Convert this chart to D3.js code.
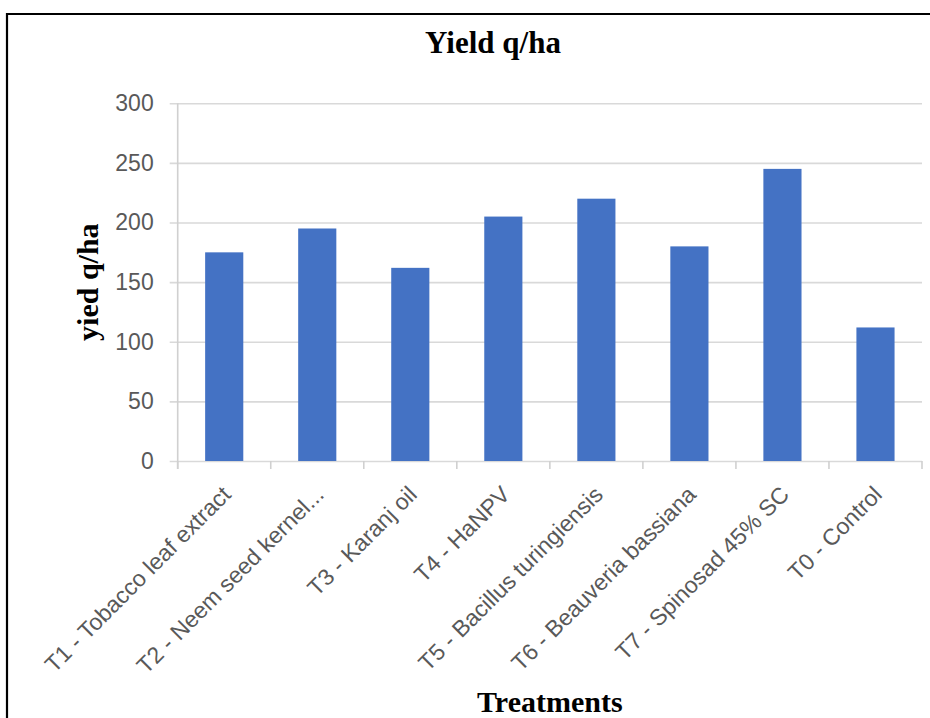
<!DOCTYPE html>
<html>
<head>
<meta charset="utf-8">
<script src="https://cdn.jsdelivr.net/npm/d3@7/dist/d3.min.js"></script>
<style>
  html, body { margin: 0; padding: 0; background: #ffffff; }
  svg { display: block; }
</style>
</head>
<body>
<svg id="chart" width="930" height="718"></svg>
<script>
const categories = [
  "T1 - Tobacco leaf extract",
  "T2 - Neem seed kernel...",
  "T3 - Karanj oil",
  "T4 - HaNPV",
  "T5 - Bacillus turingiensis",
  "T6 - Beauveria bassiana",
  "T7 - Spinosad 45% SC",
  "T0 - Control"
];
const yieldValues = [175, 195, 162, 205, 220, 180, 245, 112];
const yTicks = [0, 50, 100, 150, 200, 250, 300];
const chartTitle = "Yield q/ha";
const yTitle = "yied q/ha";
const xTitle = "Treatments";

const svg = d3.select("#chart");
const W = 930, H = 718;
const plot = { left: 177.7, right: 922, top: 103.3, bottom: 461 };

svg.append("rect").attr("width", W).attr("height", H).attr("fill", "#ffffff");

// outer frame (cropped image: top and left edges visible)
svg.append("line").attr("x1", 6).attr("x2", W).attr("y1", 14).attr("y2", 14)
  .attr("stroke", "#000").attr("stroke-width", 2.2);
svg.append("line").attr("x1", 7).attr("x2", 7).attr("y1", 13).attr("y2", H)
  .attr("stroke", "#000").attr("stroke-width", 2.2);

const x = d3.scaleBand()
  .domain(categories)
  .range([plot.left, plot.right])
  .paddingInner(0.59)
  .paddingOuter(0.295);

const y = d3.scaleLinear().domain([0, 300]).range([plot.bottom, plot.top]);

// gridlines + y ticks
const yAxis = d3.axisLeft(y).tickValues(yTicks).tickSize(plot.right - plot.left + 8).tickPadding(17);
const gy = svg.append("g")
  .attr("transform", `translate(${plot.right},0)`)
  .call(yAxis);
gy.select(".domain").remove();
gy.selectAll(".tick line").attr("stroke", "#d9d9d9").attr("stroke-width", 1.6);
gy.selectAll(".tick text")
  .attr("x", -(plot.right - plot.left) - 24)
  .attr("font-family", "'Liberation Sans', Arial, sans-serif")
  .attr("font-size", 23)
  .attr("fill", "#595959");

// vertical axis line
svg.append("line")
  .attr("x1", plot.left).attr("x2", plot.left)
  .attr("y1", plot.top).attr("y2", plot.bottom + 8)
  .attr("stroke", "#d0d0d0").attr("stroke-width", 1.6);

// bars
svg.append("g").selectAll("rect")
  .data(yieldValues)
  .join("rect")
  .attr("x", (d, i) => x(categories[i]))
  .attr("width", x.bandwidth())
  .attr("y", d => y(d))
  .attr("height", d => y(0) - y(d))
  .attr("fill", "#4472c4");

// x axis category boundary ticks
const step = x.step();
const boundaries = d3.range(categories.length + 1);
svg.append("g").selectAll("line")
  .data(boundaries)
  .join("line")
  .attr("x1", i => plot.left + i * step)
  .attr("x2", i => plot.left + i * step)
  .attr("y1", plot.bottom)
  .attr("y2", plot.bottom + 8)
  .attr("stroke", "#d0d0d0").attr("stroke-width", 1.6);

// x labels rotated
svg.append("g").selectAll("text")
  .data(categories)
  .join("text")
  .attr("transform", d => `translate(${x(d) + x.bandwidth() / 2 + 8},${plot.bottom + 35}) rotate(-45)`)
  .attr("text-anchor", "end")
  .attr("font-family", "'Liberation Sans', Arial, sans-serif")
  .attr("font-size", 23)
  .attr("fill", "#595959")
  .text(d => d);

// titles
svg.append("text")
  .attr("x", 493).attr("y", 53)
  .attr("text-anchor", "middle")
  .attr("font-family", "'Liberation Serif', 'Times New Roman', serif")
  .attr("font-weight", "bold")
  .attr("font-size", 31)
  .attr("fill", "#000")
  .text(chartTitle);

svg.append("text")
  .attr("transform", `translate(98,${(plot.top + plot.bottom) / 2}) rotate(-90)`)
  .attr("text-anchor", "middle")
  .attr("font-family", "'Liberation Serif', 'Times New Roman', serif")
  .attr("font-weight", "bold")
  .attr("font-size", 30)
  .attr("fill", "#000")
  .text(yTitle);

svg.append("text")
  .attr("x", (plot.left + plot.right) / 2).attr("y", 712)
  .attr("text-anchor", "middle")
  .attr("font-family", "'Liberation Serif', 'Times New Roman', serif")
  .attr("font-weight", "bold")
  .attr("font-size", 30)
  .attr("fill", "#000")
  .text(xTitle);
</script>
</body>
</html>
